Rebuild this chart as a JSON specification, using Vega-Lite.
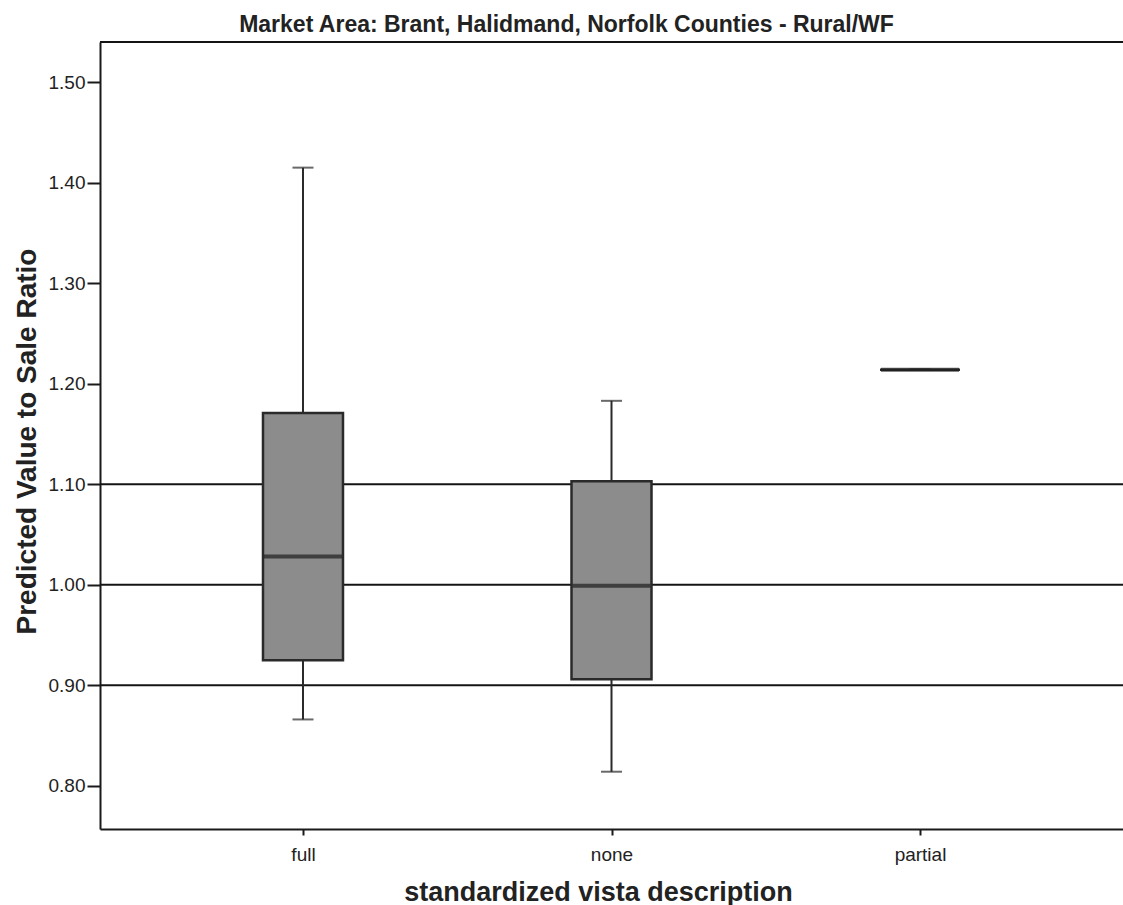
{
  "$schema": "https://vega.github.io/schema/vega-lite/v6.json",
  "description": "Box plot of predicted value to sale ratio by vista description",
  "width": 1023,
  "height": 787,
  "autosize": {"type": "none"},
  "padding": {"left": 100, "top": 42, "right": 0, "bottom": 76},
  "background": "white",
  "config": {
    "view": {"stroke": null},
    "font": "Liberation Sans",
    "axis": {
      "labelFont": "Liberation Sans",
      "titleFont": "Liberation Sans",
      "labelColor": "#222222",
      "titleColor": "#222222",
      "domainColor": "#1a1a1a",
      "tickColor": "#1a1a1a",
      "domainWidth": 2,
      "tickWidth": 2,
      "grid": false
    }
  },
  "title": {
    "text": "Market Area: Brant, Halidmand, Norfolk Counties - Rural/WF",
    "fontSize": 23,
    "fontWeight": "bold",
    "color": "#222222",
    "anchor": "middle",
    "dx": -45,
    "offset": 4
  },
  "datasets": {
    "stats": [
      {"vista": "full", "lower": 0.866, "q1": 0.925, "median": 1.028, "q3": 1.171, "upper": 1.415},
      {"vista": "none", "lower": 0.814, "q1": 0.906, "median": 0.999, "q3": 1.103, "upper": 1.183},
      {"vista": "partial", "lower": 1.214, "q1": 1.214, "median": 1.214, "q3": 1.214, "upper": 1.214}
    ],
    "refs": [
      {"ref": 0.9},
      {"ref": 1.0},
      {"ref": 1.1}
    ],
    "frame": [
      {"edge": 1.54}
    ]
  },
  "encoding": {
    "x": {
      "field": "vista",
      "type": "nominal",
      "scale": {"type": "point", "padding": 0.658},
      "axis": {
        "title": "standardized vista description",
        "titleFontSize": 27,
        "titleFontWeight": "bold",
        "titleX": 498,
        "titleY": 71,
        "titleAlign": "center",
        "titleBaseline": "alphabetic",
        "labelFontSize": 19,
        "labelAngle": 0,
        "labelPadding": 10,
        "tickSize": 6
      }
    },
    "y": {
      "type": "quantitative",
      "scale": {"domain": [0.757, 1.54], "nice": false, "zero": false},
      "axis": {
        "title": "Predicted Value to Sale Ratio",
        "values": [0.8, 0.9, 1.0, 1.1, 1.2, 1.3, 1.4, 1.5],
        "format": ".2f",
        "labelFontSize": 19,
        "labelPadding": 2,
        "tickSize": 13,
        "titleFontSize": 28,
        "titleFontWeight": "bold",
        "titleAngle": -90,
        "titleX": -73,
        "titleY": 399,
        "titleAlign": "center",
        "titleBaseline": "middle"
      }
    }
  },
  "layer": [
    {
      "data": {"name": "refs"},
      "mark": {"type": "rule", "color": "#141414", "strokeWidth": 1.8},
      "encoding": {
        "x": null,
        "y": {"field": "ref"}
      }
    },
    {
      "data": {"name": "frame"},
      "mark": {"type": "rule", "color": "#141414", "strokeWidth": 2.2},
      "encoding": {
        "x": null,
        "y": {"field": "edge"}
      }
    },
    {
      "data": {"name": "stats"},
      "mark": {"type": "rule", "color": "#2a2a2a", "strokeWidth": 2},
      "encoding": {
        "y": {"field": "lower"},
        "y2": {"field": "upper"}
      }
    },
    {
      "data": {"name": "stats"},
      "mark": {"type": "tick", "color": "#2a2a2a", "size": 21, "thickness": 2},
      "encoding": {
        "y": {"field": "lower"}
      }
    },
    {
      "data": {"name": "stats"},
      "mark": {"type": "tick", "color": "#2a2a2a", "size": 21, "thickness": 2},
      "encoding": {
        "y": {"field": "upper"}
      }
    },
    {
      "data": {"name": "stats"},
      "mark": {"type": "bar", "size": 80, "fill": "#8c8c8c", "stroke": "#2a2a2a", "strokeWidth": 2.5},
      "encoding": {
        "y": {"field": "q1"},
        "y2": {"field": "q3"}
      }
    },
    {
      "data": {"name": "stats"},
      "mark": {"type": "tick", "color": "#1e1e1e", "size": 78, "thickness": 4},
      "encoding": {
        "y": {"field": "median"}
      }
    }
  ]
}
